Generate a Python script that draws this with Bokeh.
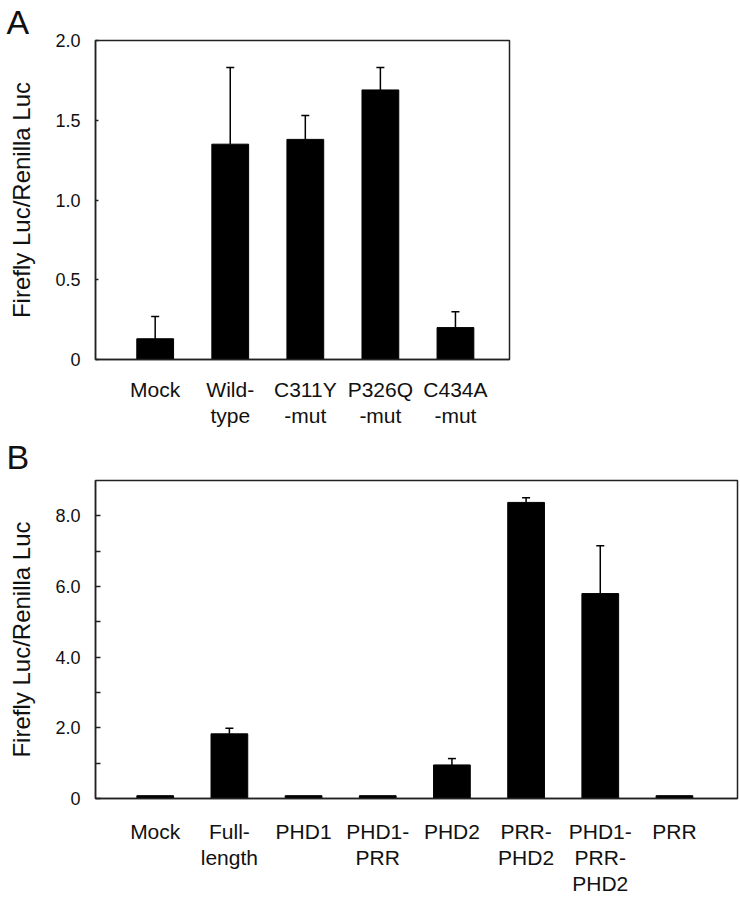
from bokeh.plotting import figure
from bokeh.models import Range1d, FixedTicker, Whisker, ColumnDataSource, TeeHead, Title
from bokeh.embed import file_html
from bokeh.resources import INLINE

# ---- data ----
cats_a = ["Mock", "Wild-\ntype", "C311Y\n-mut", "P326Q\n-mut", "C434A\n-mut"]
vals_a = [0.13, 1.35, 1.38, 1.69, 0.20]
err_a = [0.14, 0.48, 0.15, 0.14, 0.10]

cats_b = ["Mock", "Full-\nlength", "PHD1", "PHD1-\nPRR", "PHD2", "PRR-\nPHD2", "PHD1-\nPRR-\nPHD2", "PRR"]
vals_b = [0.08, 1.83, 0.08, 0.08, 0.95, 8.38, 5.80, 0.08]
err_b = [0.0, 0.16, 0.0, 0.0, 0.18, 0.13, 1.35, 0.0]

ticks_a = [0, 0.5, 1.0, 1.5, 2.0]
tick_labels_a = ["0", "0.5", "1.0", "1.5", "2.0"]
ticks_b = [0, 2, 4, 6, 8]
minor_b = [1, 3, 5, 7]
tick_labels_b = ["0", "2.0", "4.0", "6.0", "8.0"]

FONT = "Liberation Sans"
YLABEL = "Firefly Luc/Renilla Luc"


def make_panel(cats, vals, errs, xr, yr, ticks, tick_labels, minor, letter, standoff,
               width, height, bl, br, bt, bb, tick_in, xstand, bar_w):
    p = figure(width=width, height=height, output_backend="svg", toolbar_location=None,
               x_range=Range1d(*xr), y_range=Range1d(*yr),
               min_border_left=bl, min_border_right=br, min_border_top=bt, min_border_bottom=bb)
    p.xgrid.visible = False
    p.ygrid.visible = False
    p.outline_line_color = "#222222"
    p.outline_line_width = 1.5
    p.background_fill_color = "white"
    p.border_fill_color = "white"

    xs = list(range(len(cats)))
    p.vbar(x=xs, top=vals, width=bar_w, bottom=0, fill_color="black", line_color="black")

    wx, wl, wu = [], [], []
    for i, (v, e) in enumerate(zip(vals, errs)):
        if e > 0:
            wx.append(i)
            wl.append(v)
            wu.append(v + e)
    src = ColumnDataSource(dict(base=wx, lower=wl, upper=wu))
    w = Whisker(source=src, base="base", lower="lower", upper="upper", dimension="height",
                line_color="black", line_width=1.5,
                upper_head=TeeHead(size=8, line_color="black", line_width=1.5), lower_head=None)
    p.add_layout(w)

    # x axis
    xa = p.xaxis[0]
    xa.ticker = FixedTicker(ticks=xs)
    xa.major_label_overrides = {i: c for i, c in enumerate(cats)}
    xa.major_tick_line_color = None
    xa.minor_tick_line_color = None
    xa.major_label_text_font = FONT
    xa.major_label_text_font_size = "21px"
    xa.major_label_text_color = "#111111"
    xa.major_label_text_line_height = 1.15
    xa.major_label_standoff = xstand
    xa.axis_line_color = "#222222"
    xa.axis_line_width = 1.5

    # y axis
    ya = p.yaxis[0]
    ya.ticker = FixedTicker(ticks=ticks, minor_ticks=minor)
    ya.major_label_overrides = {t: l for t, l in zip(ticks, tick_labels)}
    ya.major_tick_in = tick_in
    ya.major_tick_out = 0
    ya.minor_tick_in = tick_in
    ya.minor_tick_out = 0
    ya.major_tick_line_color = "#222222"
    ya.minor_tick_line_color = "#222222"
    ya.major_tick_line_width = 1.5
    ya.minor_tick_line_width = 1.5
    ya.major_label_text_font = FONT
    ya.major_label_text_font_size = "18px"
    ya.major_label_text_color = "#111111"
    ya.major_label_standoff = 15
    ya.axis_line_color = "#222222"
    ya.axis_line_width = 1.5
    ya.axis_label = YLABEL
    ya.axis_label_text_font = FONT
    ya.axis_label_text_font_size = "24px"
    ya.axis_label_text_font_style = "normal"
    ya.axis_label_text_color = "#111111"
    ya.axis_label_standoff = 17

    t = Title(text=letter, align="left", offset=-(bl - 6), standoff=standoff,
              text_font=FONT, text_font_size="34px", text_font_style="normal",
              text_color="#111111")
    p.add_layout(t, "above")
    return p


pa = make_panel(cats_a, vals_a, err_a, (-0.795, 4.72), (0, 2.0), ticks_a, tick_labels_a, [],
                "A", 0, 740, 430, 95, 231, 39, 71, 3, 12, 0.49)
pb = make_panel(cats_b, vals_b, err_b, (-0.805, 7.85), (0, 9.0), ticks_b, tick_labels_b, minor_b,
                "B", 9, 740, 468, 95, 3, 50, 100, 5, 15, 0.495)

open("out.html", "w").write(file_html((pa, pb), INLINE))
